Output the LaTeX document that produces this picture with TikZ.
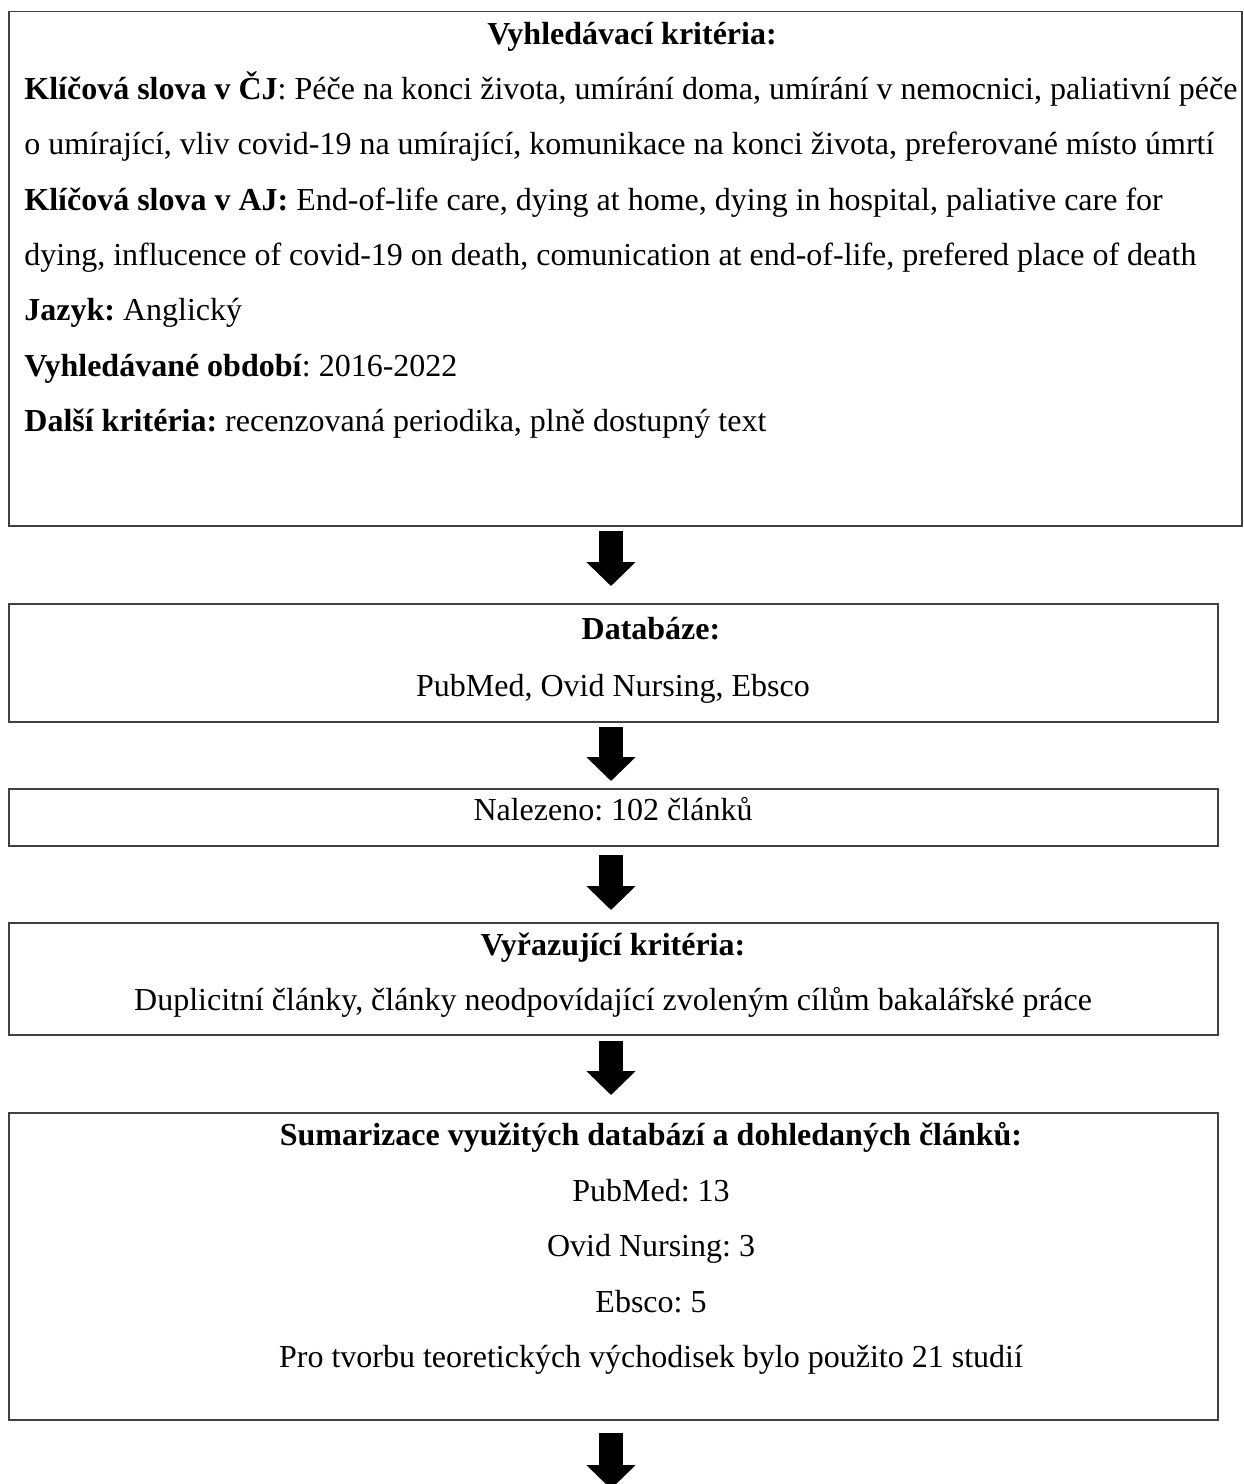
\documentclass[tikz,border=0pt]{standalone}
\usepackage{fontspec}
\setmainfont{Liberation Serif}
\usetikzlibrary{arrows.meta,positioning}
\frenchspacing

\begin{document}
\begin{tikzpicture}[x=0.5pt, y=-0.5pt,
        box/.style={rectangle, draw=black!75, line width=0.9pt, anchor=north west, inner sep=0pt, outer sep=0pt, minimum width=604.5pt},
        txt/.style={inner sep=0pt, anchor=base, font=\fontsize{16}{19}\selectfont},
        lft/.style={txt, anchor=base west},
        arrow/.style={-{Triangle[width=24pt,length=12pt]}, line width=12pt, black}
    ]
    \useasboundingbox (0,0) rectangle (1243,1484);
    % boxes
    \node[box, minimum width=616.5pt, minimum height=257.25pt] (crit) at (9,11.5) {};
    \node[box, minimum height=59pt] (db) at (9,604) {};
    \node[box, minimum height=28.5pt] (found) at (9,789) {};
    \node[box, minimum height=56pt] (excl) at (9,923) {};
    \node[box, minimum height=153.5pt] (summ) at (9,1113) {};
    \coordinate (col) at (611,0);
    \coordinate (last) at (611,1489);
    % search criteria
    \node[txt] (critT) at (632,44) {\textbf{Vyhledávací kritéria:}};
    \node[lft] (cz1) at (24,99) {\textbf{Klíčová slova v ČJ}: Péče na konci života, umírání doma, umírání v nemocnici, paliativní péče};
    \node[lft] (cz2) at (24,154) {o umírající, vliv covid-19 na umírající, komunikace na konci života, preferované místo úmrtí};
    \node[lft] (en1) at (24,210) {\textbf{Klíčová slova v AJ:} End-of-life care, dying at home, dying in hospital, paliative care for};
    \node[lft] (en2) at (24,265) {dying, influcence of covid-19 on death, comunication at end-of-life, prefered place of death};
    \node[lft] (lang) at (24,320) {\textbf{Jazyk:} Anglický};
    \node[lft] (period) at (24,376) {\textbf{Vyhledávané období}: 2016-2022};
    \node[lft] (other) at (24,431) {\textbf{Další kritéria:} recenzovaná periodika, plně dostupný text};
    % databases
    \node[txt] (dbT) at (651,639) {\textbf{Databáze:}};
    \node[txt] (dbL) at (613,696) {PubMed, Ovid Nursing, Ebsco};
    \node[txt] (foundL) at (613,820) {Nalezeno: 102 článků};
    % exclusion
    \node[txt] (exclT) at (613,955) {\textbf{Vyřazující kritéria:}};
    \node[txt] (exclL) at (613,1010) {Duplicitní články, články neodpovídající zvoleným cílům bakalářské práce};
    % summary
    \node[txt] (summT) at (651,1145) {\textbf{Sumarizace využitých databází a dohledaných článků:}};
    \node[txt] (pm) at (651,1201) {PubMed: 13};
    \node[txt] (ovid) at (651,1256) {Ovid Nursing: 3};
    \node[txt] (ebsco) at (651,1312) {Ebsco: 5};
    \node[txt] (total) at (651,1367) {Pro tvorbu teoretických východisek bylo použito 21 studií};
    % arrows
    \draw[arrow, shorten <=2.5pt, shorten >=9pt] (crit.south -| col) -- (db.north -| col);
    \draw[arrow, shorten <=2.5pt, shorten >=4pt] (db.south -| col) -- (found.north -| col);
    \draw[arrow, shorten <=4.5pt, shorten >=6.5pt] (found.south -| col) -- (excl.north -| col);
    \draw[arrow, shorten <=3pt, shorten >=9pt] (excl.south -| col) -- (summ.north -| col);
    \draw[arrow, shorten <=6.5pt] (summ.south -| col) -- (last);
\end{tikzpicture}
\end{document}
